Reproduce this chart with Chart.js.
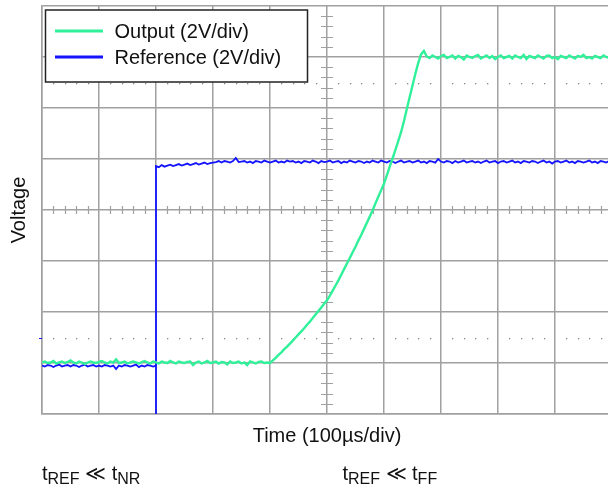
<!DOCTYPE html>
<html><head><meta charset="utf-8">
<script src="https://cdn.jsdelivr.net/npm/chart.js@4.4.1/dist/chart.umd.min.js"></script>
<style>
html,body{margin:0;padding:0;overflow:hidden;background:#fff;width:608px;height:487px}
#wrap{width:640px;height:487px;position:relative}
</style></head>
<body><div id="wrap"><canvas id="c" width="640" height="487"></canvas></div>
<script>
// ---- data (time in µs, voltage in screen divisions, 0 = bottom graticule line) ----
const sampleStepUs = 5;
const timeMinUs = 0;
const timeMaxUs = 1000;
const timeDivUs = 100;
const voltDivMin = 0;
const voltDivMax = 8;
const seriesLabels = ['Output (2V/div)', 'Reference (2V/div)'];
const xAxisTitle = 'Time (100µs/div)';
const yAxisTitle = 'Voltage';
const noteLeft = ['t', 'REF', ' \u226A ', 't', 'NR'];
const noteRight = ['t', 'REF', ' \u226A ', 't', 'FF'];

// Output trace, sampled every 5 µs from 0 to 1000 µs
const outputDiv = [
  1.01,1.03,1.00,1.01,1.04,0.99,1.01,1.03,1.00,1.02,
  1.05,1.01,0.99,1.03,1.01,0.98,1.01,1.03,1.01,1.00,
  1.02,1.04,1.01,0.99,1.03,1.01,1.07,1.00,1.01,1.03,
  0.99,1.01,1.03,1.01,0.99,1.02,1.04,1.01,0.99,1.03,
  1.01,0.99,1.03,1.01,1.00,1.04,1.01,0.99,1.03,1.01,
  1.00,1.02,1.03,0.96,1.01,1.03,0.99,1.01,1.04,1.00,
  1.01,1.03,0.99,1.02,1.01,0.97,1.03,1.00,1.01,1.03,
  0.99,1.01,0.96,1.03,1.01,0.99,1.02,1.03,1.00,1.01,
  1.00,1.05,1.10,1.16,1.21,1.27,1.32,1.38,1.44,1.50,
  1.56,1.62,1.68,1.75,1.81,1.88,1.95,2.02,2.09,2.16,
  2.23,2.32,2.42,2.52,2.62,2.73,2.84,2.95,3.06,3.17,
  3.28,3.40,3.51,3.63,3.75,3.87,3.99,4.13,4.26,4.39,
  4.52,4.68,4.85,5.01,5.18,5.35,5.53,5.74,5.98,6.21,
  6.44,6.67,6.88,7.05,7.12,
  7.01,6.98,7.03,7.00,6.97,7.02,7.04,6.98,7.00,7.03,
  6.97,7.02,7.00,6.95,7.03,7.00,6.98,7.02,7.04,6.97,
  7.00,7.03,6.98,7.02,6.96,7.00,7.03,6.98,7.00,7.02,
  6.97,7.03,7.00,6.98,7.04,6.96,7.02,7.00,6.98,7.03,
  7.00,6.97,7.02,7.03,6.98,7.00,6.96,7.02,7.00,6.98,
  7.03,7.00,6.97,7.02,7.00,7.04,6.98,7.00,6.97,7.02,
  7.00,6.98,7.03,7.00,6.98,7.02
];

// Reference trace: low level 0..200 µs, glitch at the step, high level 200..1000 µs
const referenceStepUs = 200;
const referenceLowDiv = [
  0.95,0.93,0.96,0.95,0.92,0.95,0.97,0.93,0.95,0.96,
  0.93,0.96,0.95,0.92,0.95,0.97,0.93,0.95,0.96,0.93,
  0.95,0.93,0.96,0.95,0.93,0.95,0.88,0.95,0.93,0.96,
  0.95,0.93,0.95,0.97,0.92,0.95,0.93,0.96,0.95,0.93,
  0.95
];
const referenceGlitchDiv = [0.00];
const referenceHighDiv = [
  4.86,4.84,4.88,4.85,4.87,4.89,4.86,4.88,4.90,4.87,
  4.89,4.91,4.88,4.90,4.92,4.89,4.91,4.93,4.90,4.92,
  4.93,
  4.94,4.96,4.93,4.96,4.95,4.93,4.96,5.02,4.94,4.95,
  4.96,4.93,4.95,4.92,4.96,4.95,4.93,4.97,4.95,4.93,
  4.95,4.97,4.93,4.95,4.93,4.97,4.95,4.96,4.93,4.95,
  4.92,4.96,4.95,4.93,4.97,4.95,4.92,4.96,4.94,4.95,
  4.97,4.93,4.95,4.96,4.92,4.95,4.93,4.97,4.95,4.93,
  4.96,4.95,4.92,4.95,4.93,4.97,4.95,4.93,4.97,4.95,
  4.93,4.96,4.95,4.92,4.95,4.97,4.93,4.95,4.96,4.93,
  4.95,4.97,4.93,4.95,4.92,4.96,4.95,4.93,5.00,4.95,
  4.93,4.96,4.95,4.92,4.96,4.93,4.95,4.97,4.93,4.95,
  4.96,4.93,4.95,4.92,4.95,4.97,4.93,4.95,4.96,4.92,
  4.95,4.96,4.93,4.95,4.97,4.93,4.95,4.92,4.96,4.95,
  4.93,4.96,4.95,4.92,4.95,4.97,4.93,4.95,4.91,4.95,
  4.96,4.93,4.95,4.97,4.93,4.95,4.92,4.96,4.95,4.93,
  4.95,4.97,4.93,4.95,4.92,4.96,4.95,4.93,4.96,4.95
];
const referenceMarkerDiv = 1.5;   // channel marker on the left edge
const dottedLevelsDiv = [1.5, 6.5];
const noteTimesUs = [0, 527];

// ---- build points ----
const outputPoints = outputDiv.map((v, i) => ({x: i * sampleStepUs, y: v}));
const referencePoints = [
  ...referenceLowDiv.map((v, i) => ({x: i * sampleStepUs, y: v})),
  ...referenceGlitchDiv.map(v => ({x: referenceStepUs, y: v})),
  ...referenceHighDiv.map((v, i) => ({x: referenceStepUs + i * sampleStepUs, y: v}))
];

const FONT = '"Liberation Sans", Arial, Helvetica, sans-serif';
const GRID = '#a0a0a0';
const colors = ['#30F09A', '#1414FF'];

const scopePlugin = {
  id: 'scope',
  beforeDatasetsDraw(chart) {
    const {ctx, chartArea: a, scales: {x, y}} = chart;
    ctx.save();
    ctx.strokeStyle = GRID;
    ctx.fillStyle = '#888';
    ctx.lineWidth = 1.2;
    const minor = timeDivUs / 5;
    // dotted levels
    dottedLevelsDiv.forEach(lv => {
      const py = Math.round(y.getPixelForValue(lv));
      for (let t = timeMinUs; t <= timeMaxUs; t += minor) {
        if (t % timeDivUs === 0) continue;
        const px = Math.round(x.getPixelForValue(t));
        ctx.fillRect(px, py, 1.3, 1.3);
      }
    });
    // center axis minor ticks
    const cy = y.getPixelForValue((voltDivMin + voltDivMax) / 2);
    const cx = x.getPixelForValue((timeMinUs + timeMaxUs) / 2);
    ctx.beginPath();
    for (let t = timeMinUs; t <= timeMaxUs; t += minor) {
      if (t % timeDivUs === 0) continue;
      const px = Math.round(x.getPixelForValue(t)) + 0.5;
      ctx.moveTo(px, cy - 4); ctx.lineTo(px, cy + 4);
    }
    for (let k = voltDivMin * 5; k <= voltDivMax * 5; k++) {
      if (k % 5 === 0) continue;
      const py = Math.round(y.getPixelForValue(k / 5)) + 0.5;
      ctx.moveTo(cx - 6, py); ctx.lineTo(cx + 6, py);
    }
    ctx.stroke();
    ctx.restore();
  },
  afterDatasetsDraw(chart) {
    const {ctx, chartArea: a, scales: {x, y}} = chart;
    ctx.save();
    // channel marker
    ctx.strokeStyle = colors[1];
    ctx.lineWidth = 1;
    const my = Math.round(y.getPixelForValue(referenceMarkerDiv)) + 0.5;
    ctx.beginPath(); ctx.moveTo(a.left - 3, my); ctx.lineTo(a.left, my); ctx.stroke();

    // legend box
    const lx = a.left + 3.5, ly = a.top + 4, lw = 262, lh = 72;
    ctx.fillStyle = '#fff';
    ctx.fillRect(lx, ly, lw, lh);
    ctx.strokeStyle = '#222';
    ctx.lineWidth = 1.5;
    ctx.strokeRect(lx, ly, lw, lh);
    ctx.font = '20px ' + FONT;
    ctx.textBaseline = 'middle';
    ctx.textAlign = 'left';
    chart.data.datasets.forEach((ds, i) => {
      const ry = ly + 21 + i * 26;
      ctx.strokeStyle = ds.borderColor;
      ctx.lineWidth = 3;
      ctx.beginPath(); ctx.moveTo(lx + 9.5, ry); ctx.lineTo(lx + 57.5, ry); ctx.stroke();
      ctx.fillStyle = '#111';
      ctx.fillText(ds.label, lx + 69, ry + 1.5);
    });

    // annotations below the axis title
    const drawNote = (parts, px) => {
      const base = 480;
      ctx.textBaseline = 'alphabetic';
      ctx.fillStyle = '#111';
      let cx = px;
      parts.forEach((p, i) => {
        const sub = (i === 1 || i === 4);
        ctx.font = (sub ? '16px ' : '20px ') + FONT;
        ctx.fillText(p, cx, sub ? base + 4 : base);
        cx += ctx.measureText(p).width;
      });
    };
    drawNote(noteLeft, x.getPixelForValue(noteTimesUs[0]));
    drawNote(noteRight, x.getPixelForValue(noteTimesUs[1]));
    ctx.restore();
  }
};

new Chart(document.getElementById('c'), {
  type: 'line',
  data: {
    datasets: [
      {label: seriesLabels[0], data: outputPoints, borderColor: colors[0], backgroundColor: colors[0],
       borderWidth: 2.4, pointRadius: 0, tension: 0, fill: false},
      {label: seriesLabels[1], data: referencePoints, borderColor: colors[1], backgroundColor: colors[1],
       borderWidth: 1.8, pointRadius: 0, tension: 0, fill: false}
    ]
  },
  options: {
    responsive: false,
    animation: false,
    devicePixelRatio: 1,
    layout: {padding: {left: 0, top: 6, right: 28, bottom: 39}},
    plugins: {legend: {display: false}, tooltip: {enabled: false}},
    scales: {
      x: {
        type: 'linear', min: timeMinUs, max: timeMaxUs,
        ticks: {display: false, stepSize: timeDivUs},
        grid: {color: GRID, lineWidth: 1.5, drawTicks: false},
        border: {color: GRID, width: 1.5},
        title: {display: true, text: xAxisTitle, color: '#111',
                font: {size: 20, family: FONT}, padding: {top: 10, bottom: 0}}
      },
      y: {
        type: 'linear', min: voltDivMin, max: voltDivMax,
        ticks: {display: false, stepSize: 1},
        grid: {color: GRID, lineWidth: 1.5, drawTicks: false},
        border: {color: GRID, width: 1.5},
        title: {display: true, text: yAxisTitle, color: '#111',
                font: {size: 20, family: FONT}, padding: {top: 7, bottom: 11}}
      }
    }
  },
  plugins: [scopePlugin]
});
</script>
</body></html>
